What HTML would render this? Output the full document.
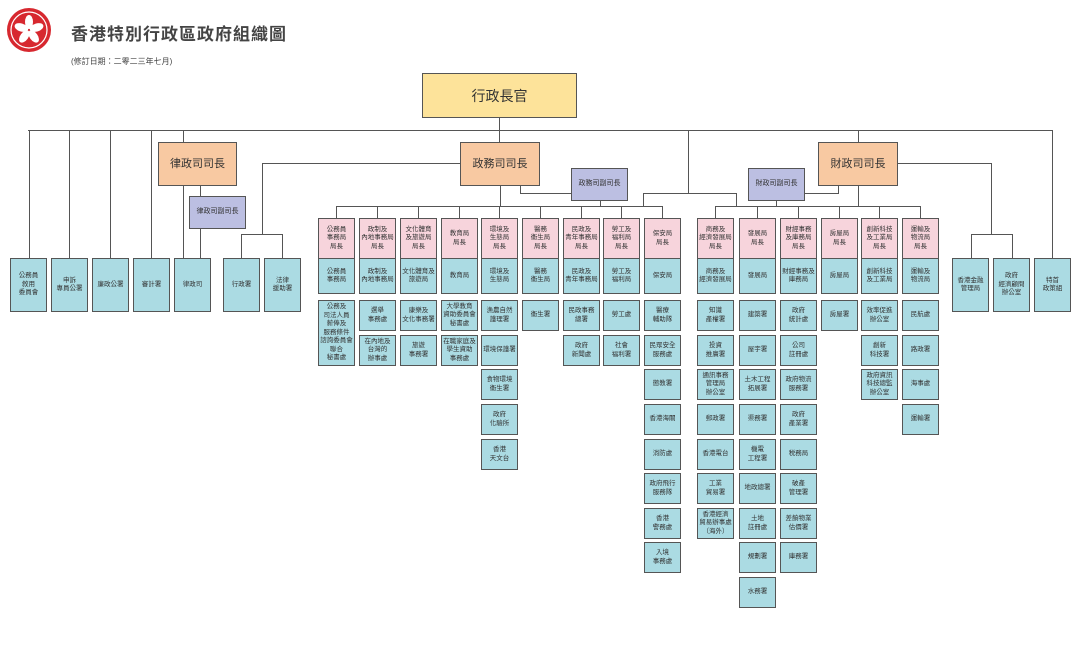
<!DOCTYPE html>
<html><head><meta charset="utf-8">
<style>
body{margin:0;width:1080px;height:667px;background:#fff;position:relative;overflow:hidden;font-family:"Liberation Sans","Noto Sans CJK TC",sans-serif;}
.b{position:absolute;box-sizing:border-box;border:1.5px solid #555;display:flex;align-items:center;justify-content:center;text-align:center;font-size:6.5px;line-height:8.5px;color:#333;width:37px;}
.p{background:#f7d4dc;height:41px;}
.u{background:#abdbe3;}
.h{position:absolute;height:1.3px;background:#555;}
.v{position:absolute;width:1.3px;background:#555;}
</style></head><body>
<svg style="position:absolute;left:6px;top:7px" width="46" height="46"><circle cx="23" cy="23" r="22" fill="#d7282f"/><circle cx="23" cy="23" r="18" fill="none" stroke="#fff" stroke-width="1.2"/><g fill="#fff"><ellipse cx="23" cy="15" rx="4" ry="7"/><ellipse cx="23" cy="15" rx="4" ry="7" transform="rotate(72 23 23)"/><ellipse cx="23" cy="15" rx="4" ry="7" transform="rotate(144 23 23)"/><ellipse cx="23" cy="15" rx="4" ry="7" transform="rotate(216 23 23)"/><ellipse cx="23" cy="15" rx="4" ry="7" transform="rotate(288 23 23)"/></g></svg>
<div style="position:absolute;left:71px;top:20px;font-size:17px;font-weight:bold;color:#444;letter-spacing:1px">香港特別行政區政府組織圖</div>
<div style="position:absolute;left:71px;top:56px;font-size:8px;color:#444">(修訂日期：二零二三年七月)</div>

<!-- lines -->
<div class="h" style="left:28px;top:130px;width:1025px"></div>
<div class="v" style="left:29px;top:130px;height:128px"></div>
<div class="v" style="left:69px;top:130px;height:128px"></div>
<div class="v" style="left:110px;top:130px;height:128px"></div>
<div class="v" style="left:151px;top:130px;height:128px"></div>
<div class="v" style="left:183px;top:130px;height:128px"></div>
<div class="v" style="left:200px;top:186px;height:72px"></div>
<div class="v" style="left:499px;top:118px;height:24px"></div>
<div class="h" style="left:262px;top:163px;width:198px"></div>
<div class="v" style="left:262px;top:163px;height:71px"></div>
<div class="h" style="left:241px;top:234px;width:42px"></div>
<div class="v" style="left:241px;top:234px;height:24px"></div>
<div class="v" style="left:282px;top:234px;height:24px"></div>
<div class="v" style="left:500px;top:186px;height:20px"></div>
<div class="h" style="left:336px;top:206px;width:327px"></div>
<div class="v" style="left:520px;top:186px;height:7px"></div>
<div class="h" style="left:520px;top:193px;width:51px"></div>
<div class="v" style="left:600px;top:201px;height:5px"></div>
<div class="v" style="left:688px;top:130px;height:63px"></div>
<div class="h" style="left:643px;top:193px;width:94px"></div>
<div class="v" style="left:643px;top:193px;height:13px"></div>
<div class="v" style="left:736px;top:193px;height:13px"></div>
<div class="v" style="left:858px;top:130px;height:12px"></div>
<div class="v" style="left:858px;top:186px;height:20px"></div>
<div class="h" style="left:715px;top:206px;width:206px"></div>
<div class="h" style="left:805px;top:193px;width:34px"></div>
<div class="v" style="left:838px;top:186px;height:7px"></div>
<div class="v" style="left:776px;top:201px;height:5px"></div>
<div class="h" style="left:898px;top:163px;width:94px"></div>
<div class="v" style="left:991px;top:163px;height:71px"></div>
<div class="h" style="left:971px;top:234px;width:42px"></div>
<div class="v" style="left:971px;top:234px;height:24px"></div>
<div class="v" style="left:1012px;top:234px;height:24px"></div>
<div class="v" style="left:1052px;top:130px;height:128px"></div>
<div class="v" style="left:336px;top:206px;height:12px"></div>
<div class="v" style="left:377px;top:206px;height:12px"></div>
<div class="v" style="left:418px;top:206px;height:12px"></div>
<div class="v" style="left:459px;top:206px;height:12px"></div>
<div class="v" style="left:499px;top:206px;height:12px"></div>
<div class="v" style="left:540px;top:206px;height:12px"></div>
<div class="v" style="left:581px;top:206px;height:12px"></div>
<div class="v" style="left:621px;top:206px;height:12px"></div>
<div class="v" style="left:662px;top:206px;height:12px"></div>
<div class="v" style="left:715px;top:206px;height:12px"></div>
<div class="v" style="left:757px;top:206px;height:12px"></div>
<div class="v" style="left:798px;top:206px;height:12px"></div>
<div class="v" style="left:839px;top:206px;height:12px"></div>
<div class="v" style="left:879px;top:206px;height:12px"></div>
<div class="v" style="left:920px;top:206px;height:12px"></div>

<!-- top boxes -->
<div class="b" style="left:422px;top:73px;width:155px;height:45px;background:#fde39a;font-size:14px;line-height:16px">行政長官</div>
<div class="b" style="left:158px;top:142px;width:79px;height:44px;background:#f8c9a2;font-size:11px">律政司司長</div>
<div class="b" style="left:460px;top:142px;width:80px;height:44px;background:#f8c9a2;font-size:11px">政務司司長</div>
<div class="b" style="left:818px;top:142px;width:80px;height:44px;background:#f8c9a2;font-size:11px">財政司司長</div>
<div class="b" style="left:189px;top:196px;width:57px;height:33px;background:#bcbfe2;font-size:7px">律政司副司長</div>
<div class="b" style="left:571px;top:168px;width:57px;height:33px;background:#bcbfe2;font-size:7px">政務司副司長</div>
<div class="b" style="left:748px;top:168px;width:57px;height:33px;background:#bcbfe2;font-size:7px">財政司副司長</div>

<!-- left boxes -->
<div class="b u" style="left:10px;top:258px;height:54px">公務員<br>敘用<br>委員會</div>
<div class="b u" style="left:51px;top:258px;height:54px">申訴<br>專員公署</div>
<div class="b u" style="left:92px;top:258px;height:54px">廉政公署</div>
<div class="b u" style="left:133px;top:258px;height:54px">審計署</div>
<div class="b u" style="left:174px;top:258px;height:54px">律政司</div>
<div class="b u" style="left:223px;top:258px;height:54px">行政署</div>
<div class="b u" style="left:264px;top:258px;height:54px">法律<br>援助署</div>
<!-- right boxes -->
<div class="b u" style="left:952px;top:258px;height:54px">香港金融<br>管理局</div>
<div class="b u" style="left:993px;top:258px;height:54px">政府<br>經濟顧問<br>辦公室</div>
<div class="b u" style="left:1034px;top:258px;height:54px">特首<br>政策組</div>

<!-- CS bureaux -->
<div class="b p" style="left:318px;top:218px">公務員<br>事務局<br>局長</div>
<div class="b u" style="left:318px;top:258px;height:36px">公務員<br>事務局</div>
<div class="b u" style="left:318px;top:300px;height:66px">公務及<br>司法人員<br>薪俸及<br>服務條件<br>諮詢委員會<br>聯合<br>秘書處</div>

<div class="b p" style="left:359px;top:218px">政制及<br>內地事務局<br>局長</div>
<div class="b u" style="left:359px;top:258px;height:36px">政制及<br>內地事務局</div>
<div class="b u" style="left:359px;top:300px;height:31px">選舉<br>事務處</div>
<div class="b u" style="left:359px;top:335px;height:31px">在內地及<br>台灣的<br>辦事處</div>

<div class="b p" style="left:400px;top:218px">文化體育<br>及旅遊局<br>局長</div>
<div class="b u" style="left:400px;top:258px;height:36px">文化體育及<br>旅遊局</div>
<div class="b u" style="left:400px;top:300px;height:31px">康樂及<br>文化事務署</div>
<div class="b u" style="left:400px;top:335px;height:31px">旅遊<br>事務署</div>

<div class="b p" style="left:441px;top:218px">教育局<br>局長</div>
<div class="b u" style="left:441px;top:258px;height:36px">教育局</div>
<div class="b u" style="left:441px;top:300px;height:31px">大學教育<br>資助委員會<br>秘書處</div>
<div class="b u" style="left:441px;top:335px;height:31px">在職家庭及<br>學生資助<br>事務處</div>

<div class="b p" style="left:481px;top:218px">環境及<br>生態局<br>局長</div>
<div class="b u" style="left:481px;top:258px;height:36px">環境及<br>生態局</div>
<div class="b u" style="left:481px;top:300px;height:31px">漁農自然<br>護理署</div>
<div class="b u" style="left:481px;top:335px;height:31px">環境保護署</div>
<div class="b u" style="left:481px;top:369px;height:31px">食物環境<br>衞生署</div>
<div class="b u" style="left:481px;top:404px;height:31px">政府<br>化驗所</div>
<div class="b u" style="left:481px;top:439px;height:31px">香港<br>天文台</div>

<div class="b p" style="left:522px;top:218px">醫務<br>衞生局<br>局長</div>
<div class="b u" style="left:522px;top:258px;height:36px">醫務<br>衞生局</div>
<div class="b u" style="left:522px;top:300px;height:31px">衞生署</div>

<div class="b p" style="left:563px;top:218px">民政及<br>青年事務局<br>局長</div>
<div class="b u" style="left:563px;top:258px;height:36px">民政及<br>青年事務局</div>
<div class="b u" style="left:563px;top:300px;height:31px">民政事務<br>總署</div>
<div class="b u" style="left:563px;top:335px;height:31px">政府<br>新聞處</div>

<div class="b p" style="left:603px;top:218px">勞工及<br>福利局<br>局長</div>
<div class="b u" style="left:603px;top:258px;height:36px">勞工及<br>福利局</div>
<div class="b u" style="left:603px;top:300px;height:31px">勞工處</div>
<div class="b u" style="left:603px;top:335px;height:31px">社會<br>福利署</div>

<div class="b p" style="left:644px;top:218px">保安局<br>局長</div>
<div class="b u" style="left:644px;top:258px;height:36px">保安局</div>
<div class="b u" style="left:644px;top:300px;height:31px">醫療<br>輔助隊</div>
<div class="b u" style="left:644px;top:335px;height:31px">民眾安全<br>服務處</div>
<div class="b u" style="left:644px;top:369px;height:31px">懲教署</div>
<div class="b u" style="left:644px;top:404px;height:31px">香港海關</div>
<div class="b u" style="left:644px;top:439px;height:31px">消防處</div>
<div class="b u" style="left:644px;top:473px;height:31px">政府飛行<br>服務隊</div>
<div class="b u" style="left:644px;top:508px;height:31px">香港<br>警務處</div>
<div class="b u" style="left:644px;top:542px;height:31px">入境<br>事務處</div>

<!-- FS bureaux -->
<div class="b p" style="left:697px;top:218px">商務及<br>經濟發展局<br>局長</div>
<div class="b u" style="left:697px;top:258px;height:36px">商務及<br>經濟發展局</div>
<div class="b u" style="left:697px;top:300px;height:31px">知識<br>產權署</div>
<div class="b u" style="left:697px;top:335px;height:31px">投資<br>推廣署</div>
<div class="b u" style="left:697px;top:369px;height:31px">通訊事務<br>管理局<br>辦公室</div>
<div class="b u" style="left:697px;top:404px;height:31px">郵政署</div>
<div class="b u" style="left:697px;top:439px;height:31px">香港電台</div>
<div class="b u" style="left:697px;top:473px;height:31px">工業<br>貿易署</div>
<div class="b u" style="left:697px;top:508px;height:31px">香港經濟<br>貿易辦事處<br>（海外）</div>

<div class="b p" style="left:739px;top:218px">發展局<br>局長</div>
<div class="b u" style="left:739px;top:258px;height:36px">發展局</div>
<div class="b u" style="left:739px;top:300px;height:31px">建築署</div>
<div class="b u" style="left:739px;top:335px;height:31px">屋宇署</div>
<div class="b u" style="left:739px;top:369px;height:31px">土木工程<br>拓展署</div>
<div class="b u" style="left:739px;top:404px;height:31px">渠務署</div>
<div class="b u" style="left:739px;top:439px;height:31px">機電<br>工程署</div>
<div class="b u" style="left:739px;top:473px;height:31px">地政總署</div>
<div class="b u" style="left:739px;top:508px;height:31px">土地<br>註冊處</div>
<div class="b u" style="left:739px;top:542px;height:31px">規劃署</div>
<div class="b u" style="left:739px;top:577px;height:31px">水務署</div>

<div class="b p" style="left:780px;top:218px">財經事務<br>及庫務局<br>局長</div>
<div class="b u" style="left:780px;top:258px;height:36px">財經事務及<br>庫務局</div>
<div class="b u" style="left:780px;top:300px;height:31px">政府<br>統計處</div>
<div class="b u" style="left:780px;top:335px;height:31px">公司<br>註冊處</div>
<div class="b u" style="left:780px;top:369px;height:31px">政府物流<br>服務署</div>
<div class="b u" style="left:780px;top:404px;height:31px">政府<br>產業署</div>
<div class="b u" style="left:780px;top:439px;height:31px">税務局</div>
<div class="b u" style="left:780px;top:473px;height:31px">破產<br>管理署</div>
<div class="b u" style="left:780px;top:508px;height:31px">差餉物業<br>估價署</div>
<div class="b u" style="left:780px;top:542px;height:31px">庫務署</div>

<div class="b p" style="left:821px;top:218px">房屋局<br>局長</div>
<div class="b u" style="left:821px;top:258px;height:36px">房屋局</div>
<div class="b u" style="left:821px;top:300px;height:31px">房屋署</div>

<div class="b p" style="left:861px;top:218px">創新科技<br>及工業局<br>局長</div>
<div class="b u" style="left:861px;top:258px;height:36px">創新科技<br>及工業局</div>
<div class="b u" style="left:861px;top:300px;height:31px">效率促進<br>辦公室</div>
<div class="b u" style="left:861px;top:335px;height:31px">創新<br>科技署</div>
<div class="b u" style="left:861px;top:369px;height:31px">政府資訊<br>科技總監<br>辦公室</div>

<div class="b p" style="left:902px;top:218px">運輸及<br>物流局<br>局長</div>
<div class="b u" style="left:902px;top:258px;height:36px">運輸及<br>物流局</div>
<div class="b u" style="left:902px;top:300px;height:31px">民航處</div>
<div class="b u" style="left:902px;top:335px;height:31px">路政署</div>
<div class="b u" style="left:902px;top:369px;height:31px">海事處</div>
<div class="b u" style="left:902px;top:404px;height:31px">運輸署</div>
</body></html>
